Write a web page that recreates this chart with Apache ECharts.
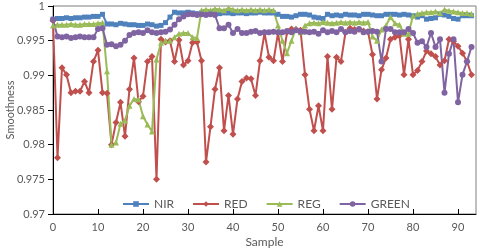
<!DOCTYPE html>
<html><head><meta charset="utf-8">
<script src="https://cdn.jsdelivr.net/npm/echarts@6/dist/echarts.min.js"></script>
<style>html,body{margin:0;padding:0;background:#fff}#c{width:480px;height:249px}</style>
</head><body><div id="c"></div>
<script>
const seriesNames = ['NIR', 'RED', 'REG', 'GREEN'];
const nir = [0.9981,0.9982,0.9982,0.9983,0.9982,0.9983,0.9983,0.9984,0.9984,0.9985,0.9985,0.9988,0.9974,0.9974,0.9973,0.9975,0.9974,0.9973,0.9973,0.9972,
0.9972,0.9974,0.9973,0.9971,0.9972,0.9976,0.9984,0.9991,0.9990,0.9990,0.9991,0.9990,0.9989,0.9990,0.9989,0.9990,0.9991,0.9989,0.9990,0.9990,
0.9989,0.9990,0.9990,0.9989,0.9990,0.9990,0.9991,0.9990,0.9990,0.9990,0.9988,0.9985,0.9985,0.9984,0.9986,0.9988,0.9988,0.9987,0.9984,0.9983,
0.9982,0.9988,0.9986,0.9987,0.9986,0.9988,0.9987,0.9987,0.9986,0.9988,0.9988,0.9987,0.9986,0.9986,0.9988,0.9988,0.9988,0.9987,0.9988,0.9987,
0.9986,0.9984,0.9986,0.9981,0.9982,0.9983,0.9988,0.9987,0.9985,0.9982,0.9981,0.9986,0.9986,0.9986];
const red = [0.9979,0.9781,0.9911,0.9901,0.9875,0.9877,0.9877,0.9891,0.9875,0.9920,0.9936,0.9875,0.9874,0.9800,0.9832,0.9861,0.9812,0.9880,0.9925,0.9862,
0.9870,0.9920,0.9927,0.9750,0.9952,0.9948,0.9950,0.9920,0.9951,0.9915,0.9921,0.9947,0.9948,0.9921,0.9775,0.9826,0.9880,0.9911,0.9820,0.9871,
0.9815,0.9866,0.9891,0.9896,0.9895,0.9871,0.9921,0.9961,0.9926,0.9921,0.9961,0.9920,0.9962,0.9967,0.9966,0.9965,0.9901,0.9851,0.9820,0.9856,
0.9820,0.9927,0.9851,0.9926,0.9920,0.9962,0.9968,0.9966,0.9966,0.9964,0.9963,0.9930,0.9866,0.9908,0.9925,0.9952,0.9955,0.9957,0.9901,0.9952,
0.9901,0.9907,0.9920,0.9935,0.9931,0.9927,0.9915,0.9921,0.9952,0.9949,0.9942,0.9932,0.9920,0.9901];
const reg = [0.9972,0.9973,0.9973,0.9973,0.9974,0.9973,0.9973,0.9974,0.9974,0.9974,0.9975,0.9976,0.9906,0.9800,0.9803,0.9830,0.9835,0.9856,0.9866,0.9865,
0.9841,0.9829,0.9819,0.9923,0.9947,0.9950,0.9950,0.9955,0.9960,0.9961,0.9961,0.9955,0.9954,0.9994,0.9995,0.9994,0.9996,0.9995,0.9994,0.9997,
0.9995,0.9994,0.9995,0.9994,0.9995,0.9994,0.9995,0.9994,0.9995,0.9994,0.9972,0.9950,0.9932,0.9950,0.9968,0.9962,0.9972,0.9975,0.9976,0.9975,
0.9977,0.9976,0.9975,0.9976,0.9977,0.9976,0.9977,0.9976,0.9977,0.9976,0.9977,0.9956,0.9950,0.9966,0.9972,0.9984,0.9975,0.9973,0.9960,0.9960,
0.9986,0.9989,0.9990,0.9991,0.9991,0.9992,0.9990,0.9995,0.9993,0.9992,0.9991,0.9990,0.9990,0.9989];
const green = [0.9980,0.9956,0.9955,0.9956,0.9954,0.9955,0.9956,0.9955,0.9955,0.9955,0.9967,0.9968,0.9944,0.9945,0.9942,0.9944,0.9950,0.9958,0.9961,0.9962,
0.9961,0.9965,0.9962,0.9961,0.9962,0.9963,0.9966,0.9973,0.9981,0.9985,0.9988,0.9988,0.9987,0.9988,0.9987,0.9988,0.9987,0.9968,0.9968,0.9973,
0.9961,0.9967,0.9961,0.9961,0.9963,0.9964,0.9961,0.9962,0.9962,0.9963,0.9962,0.9962,0.9964,0.9962,0.9965,0.9963,0.9963,0.9962,0.9963,0.9960,
0.9965,0.9962,0.9964,0.9962,0.9967,0.9962,0.9964,0.9963,0.9967,0.9962,0.9963,0.9964,0.9963,0.9920,0.9967,0.9967,0.9962,0.9962,0.9962,0.9967,
0.9961,0.9947,0.9949,0.9941,0.9961,0.9941,0.9952,0.9875,0.9931,0.9952,0.9861,0.9901,0.9920,0.9941];
const samples = nir.map((_, i) => i);

const colors = ['#4F81BD', '#C0504D', '#9BBB59', '#8064A2'];
const symbols = ['rect', 'diamond', 'triangle', 'circle'];
const sizes = [5, 7, 6, 6];
const values = [nir, red, reg, green];
const font = 'Lato, "Liberation Sans", sans-serif';

const chart = echarts.init(document.getElementById('c'));
chart.setOption({
  animation: false,
  backgroundColor: '#fff',
  grid: { left: 53, right: 4, top: 6, bottom: 35, show: true, borderColor: '#7f7f7f', borderWidth: 1,
          containLabel: false, outerBoundsMode: 'none' },
  legend: {
    left: 117, top: 193, itemWidth: 26, itemHeight: 7, itemGap: 18,
    textStyle: { fontSize: 12, color: '#595959', fontFamily: font },
    data: seriesNames
  },
  xAxis: {
    type: 'value', min: 0, max: 94, interval: 10,
    name: 'Sample', nameLocation: 'middle', nameGap: 22, nameMoveOverlap: false,
    nameTextStyle: { fontSize: 12, color: '#595959', fontFamily: font },
    axisLine: { lineStyle: { color: '#000', width: 1 } },
    axisTick: { inside: true, length: 5, lineStyle: { color: '#000' } },
    axisLabel: { fontSize: 11, color: '#595959', fontFamily: font, margin: 8, showMaxLabel: false },
    splitLine: { show: false }
  },
  yAxis: {
    type: 'value', min: 0.97, max: 1, interval: 0.005,
    name: 'Smoothness', nameLocation: 'middle', nameGap: 37, nameMoveOverlap: false,
    nameTextStyle: { fontSize: 11, color: '#595959', fontFamily: font },
    axisLine: { show: true, lineStyle: { color: '#000', width: 1 } },
    axisTick: { show: true, inside: false, length: 5, lineStyle: { color: '#000' } },
    axisLabel: { fontSize: 11, color: '#595959', fontFamily: font, margin: 8 },
    splitLine: { show: false }
  },
  series: seriesNames.map((n, k) => ({
    name: n, type: 'line',
    data: samples.map(i => [i, values[k][i]]),
    symbol: symbols[k], symbolSize: sizes[k],
    lineStyle: { color: colors[k], width: 2 },
    itemStyle: { color: colors[k] },
    showAllSymbol: true
  }))
});
</script></body></html>
